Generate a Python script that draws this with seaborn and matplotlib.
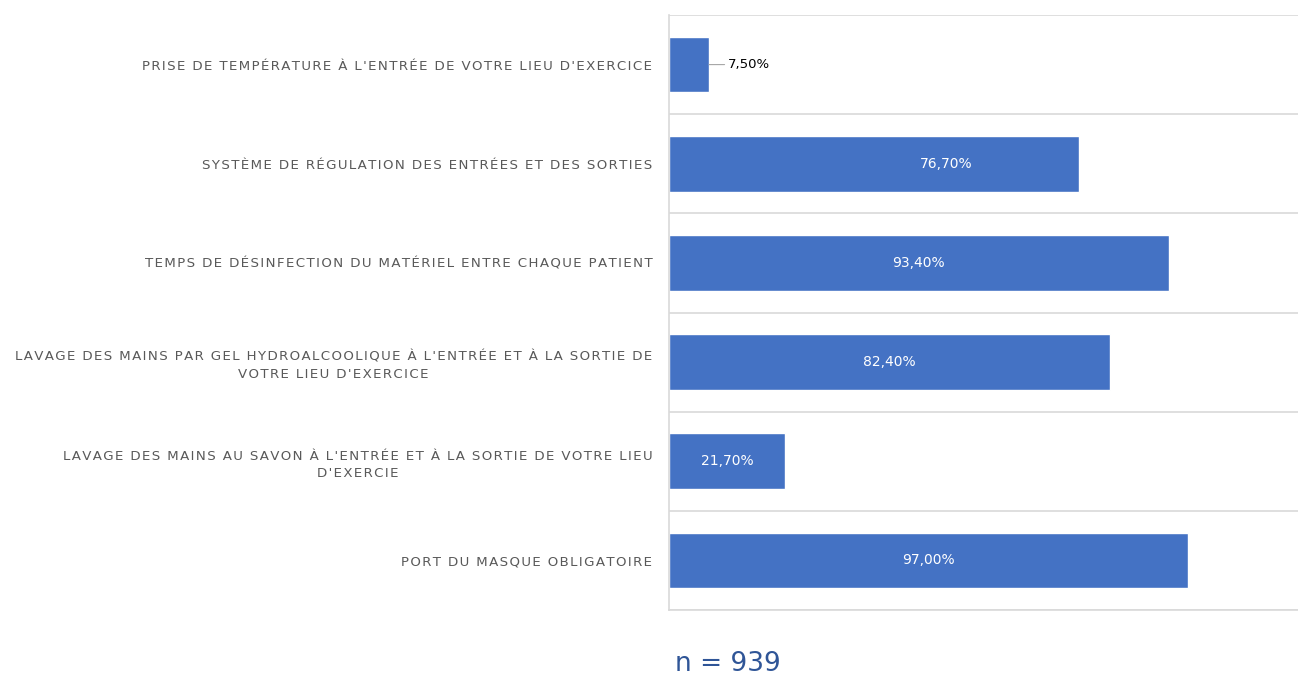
import matplotlib
matplotlib.use("Agg")
import matplotlib.pyplot as plt
import numpy as np
import pandas as pd
import seaborn as sns

# ── Data ──────────────────────────────────────────────────────────────────────
categories = [
    "PRISE DE TEMPÉRATURE À L'ENTRÉE DE VOTRE LIEU D'EXERCICE",
    "SYSTÈME DE RÉGULATION DES ENTRÉES ET DES SORTIES",
    "TEMPS DE DÉSINFECTION DU MATÉRIEL ENTRE CHAQUE PATIENT",
    "LAVAGE DES MAINS PAR GEL HYDROALCOOLIQUE À L'ENTRÉE ET À LA SORTIE DE\nVOTRE LIEU D'EXERCICE",
    "LAVAGE DES MAINS AU SAVON À L'ENTRÉE ET À LA SORTIE DE VOTRE LIEU\nD'EXERCIE",
    "PORT DU MASQUE OBLIGATOIRE",
]
values = [7.5, 76.7, 93.4, 82.4, 21.7, 97.0]
value_labels = ["7,50%", "76,70%", "93,40%", "82,40%", "21,70%", "97,00%"]
sample_note = "n = 939"

df = pd.DataFrame({"mesure": categories, "pct": values})

sns.set_theme(style="white")
plt.rcParams["font.family"] = ["DejaVu Sans"]

BAR = "#4472C4"
GRID = "#d9d9d9"


def spaced(text):
    # mimic the letter-spaced caps of the original with hair spaces
    return "\n".join("\u200a".join(line) for line in text.split("\n"))


fig = plt.figure(figsize=(12.98, 6.77), dpi=100)
ax = fig.add_axes([669 / 1298, 1 - 610 / 677, 1 - 669 / 1298, (610 - 15) / 677])

sns.barplot(data=df, y="mesure", x="pct", color=BAR, width=0.56,
            saturation=1, ax=ax, orient="h")

ax.set_xlim(0, 117.6)
ax.set_ylim(len(categories) - 0.5, -0.5)
ax.set_xlabel("")
ax.set_ylabel("")
ax.set_xticks([])

# category separators
ax.set_yticks(np.arange(len(categories) + 1) - 0.5, minor=True)
ax.grid(which="minor", axis="y", color=GRID, linewidth=1.2)
ax.tick_params(axis="y", which="both", length=0, pad=12)
ax.set_yticklabels([spaced(c) for c in categories], fontsize=9.6,
                   color="#595959", multialignment="center", linespacing=1.4)

for side in ["top", "right"]:
    ax.spines[side].set_visible(False)
for side in ["left", "bottom"]:
    ax.spines[side].set_color(GRID)
    ax.spines[side].set_linewidth(1.2)

# value labels (the 76,70% label sits right of centre in the original)
shift = {1: 13.5}
bars = ax.containers[0]
for i, (rect, val, lab) in enumerate(zip(bars, values, value_labels)):
    yc = rect.get_y() + rect.get_height() / 2
    if val < 15:
        ax.annotate(lab, xy=(val, yc), xytext=(val + 3.5, yc),
                    ha="left", va="center", fontsize=9.5, color="black",
                    arrowprops=dict(arrowstyle="-", color="#a6a6a6", lw=0.8,
                                    shrinkA=0, shrinkB=0))
    else:
        ax.text(val / 2 + shift.get(i, 0), yc, lab, ha="center", va="center",
                fontsize=10, color="white")

fig.text(728 / 1298, 1 - 664 / 677, sample_note, ha="center", va="center",
         fontsize=19, color="#2F5597", family=["DejaVu Sans"])

fig.savefig("out.png", dpi=100)
